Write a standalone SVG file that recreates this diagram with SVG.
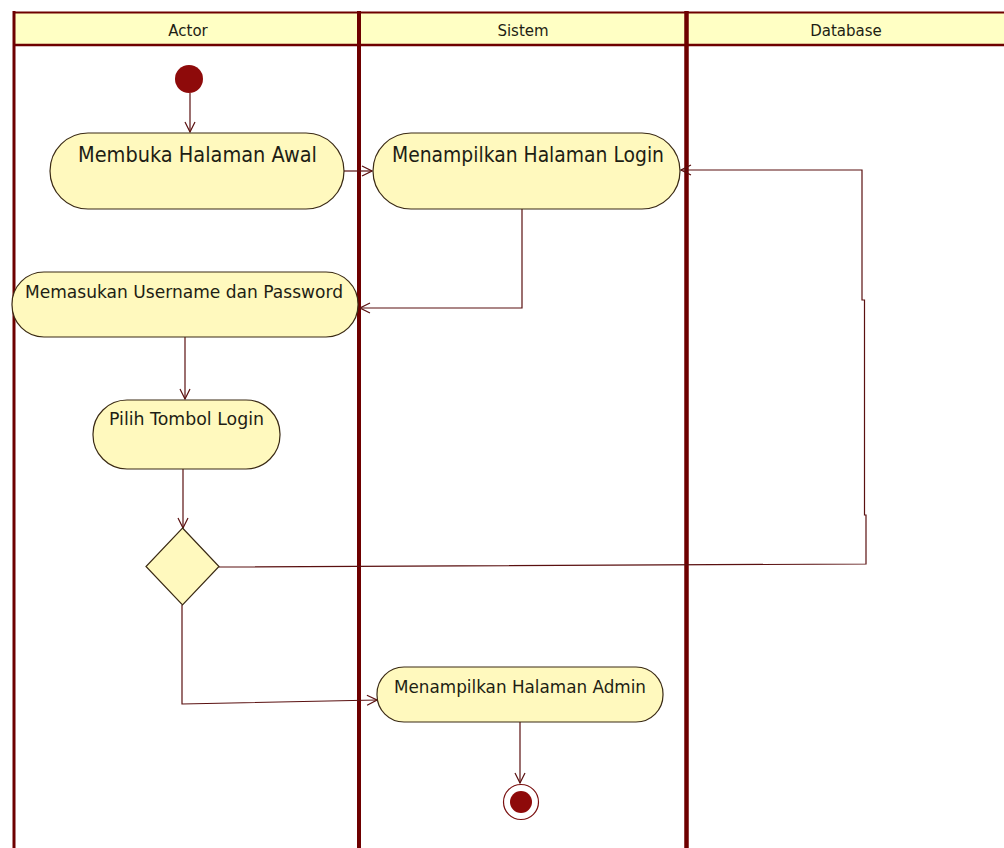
<svg xmlns="http://www.w3.org/2000/svg" width="1004" height="848" viewBox="0 0 1004 848">
<style>
.hdr{fill:#FFFFC4;stroke:none}
.lane{stroke:#6E0000;fill:none}
.node{fill:#FFF9BE;stroke:#3A2A14;stroke-width:1.2}
.lbl{font-family:"DejaVu Sans",Verdana,sans-serif;fill:#1E1E14;text-anchor:middle}
.hl{font-size:15px}
.big{font-size:21px}
.mid{font-size:17px}
.conn{fill:none;stroke:#5A1010;stroke-width:1.2}
</style>
<defs>
<marker id="arr" viewBox="0 0 12 12" refX="11" refY="6" markerWidth="12" markerHeight="12" markerUnits="userSpaceOnUse" orient="auto">
<path d="M1,1 L11,6 L1,11" fill="none" stroke="#5A1010" stroke-width="1.2"/>
</marker>
</defs>
<rect width="1004" height="848" fill="#FFFFFF"/>
<g id="swimlanes">
<rect class="hdr" x="14" y="12" width="990" height="33"/>
<line class="lane" x1="13" y1="12.5" x2="1004" y2="12.5" stroke-width="2"/>
<line class="lane" x1="13" y1="45" x2="1004" y2="45" stroke-width="2.5"/>
<line class="lane" x1="14" y1="11" x2="14" y2="848" stroke-width="3"/>
<line class="lane" x1="359" y1="11" x2="359" y2="848" stroke-width="4"/>
<line class="lane" x1="686.5" y1="11" x2="686.5" y2="848" stroke-width="4.5"/>
<text class="lbl hl" x="188" y="36">Actor</text>
<text class="lbl hl" x="523" y="36">Sistem</text>
<text class="lbl hl" x="846" y="36">Database</text>
</g>
<g id="connectors">
<path class="conn" d="M190,93 L190,132" marker-end="url(#arr)"/>
<path class="conn" d="M344,171 L372,171" marker-end="url(#arr)"/>
<path class="conn" d="M522,209 L522,308 L360,308" marker-end="url(#arr)"/>
<path class="conn" d="M185,337 L185,399" marker-end="url(#arr)"/>
<path class="conn" d="M183,469 L183,528" marker-end="url(#arr)"/>
<path class="conn" d="M219,567 L866,564 L866,515 L864.5,515 L864.5,300 L862,300 L862,170 L681,170" marker-end="url(#arr)"/>
<path class="conn" d="M182,605 L182,704 L377,700" marker-end="url(#arr)"/>
<path class="conn" d="M520,722 L520,783" marker-end="url(#arr)"/>
</g>
<g id="start">
<circle cx="189" cy="79" r="14" fill="#8E0A0A"/>
</g>
<g id="membuka">
<rect class="node" x="50" y="133" width="294" height="76" rx="38" ry="38"/>
<text class="lbl big" x="197.5" y="162" textLength="239" lengthAdjust="spacingAndGlyphs">Membuka Halaman Awal</text>
</g>
<g id="login">
<rect class="node" x="373" y="133" width="307" height="76" rx="38" ry="38"/>
<text class="lbl big" x="528" y="162" textLength="272" lengthAdjust="spacingAndGlyphs">Menampilkan Halaman Login</text>
</g>
<g id="memasukan">
<rect class="node" x="12" y="272" width="346" height="65" rx="32" ry="32"/>
<text class="lbl mid" x="184" y="298" textLength="318" lengthAdjust="spacingAndGlyphs">Memasukan Username dan Password</text>
</g>
<g id="pilih">
<rect class="node" x="93" y="400" width="187" height="69" rx="34" ry="34"/>
<text class="lbl mid" x="186.5" y="425" textLength="155" lengthAdjust="spacingAndGlyphs">Pilih Tombol Login</text>
</g>
<g id="decision">
<polygon class="node" points="182.5,528 219,566.5 182.5,605 146,566.5"/>
</g>
<g id="admin">
<rect class="node" x="377" y="667" width="286" height="55" rx="27" ry="27"/>
<text class="lbl mid" x="520" y="693" textLength="252" lengthAdjust="spacingAndGlyphs">Menampilkan Halaman Admin</text>
</g>
<g id="end">
<circle cx="521" cy="802" r="17.5" fill="#FFFFFF" stroke="#7A1010" stroke-width="1.2"/>
<circle cx="521" cy="802" r="11" fill="#8E0A0A"/>
</g>
</svg>
